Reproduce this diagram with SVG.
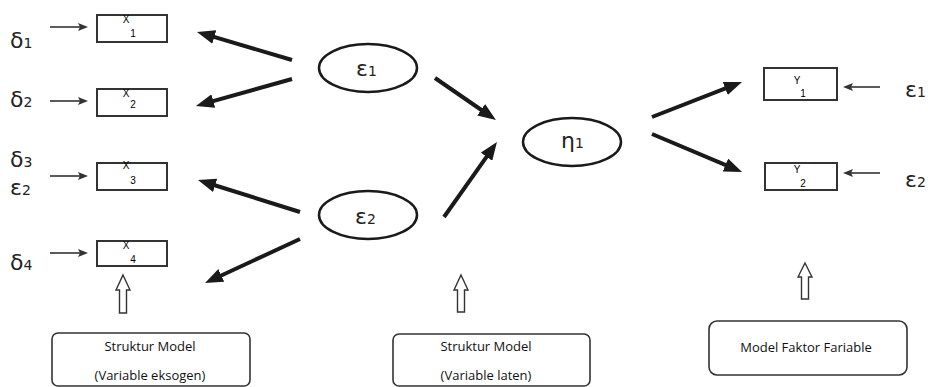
<svg xmlns="http://www.w3.org/2000/svg" width="928" height="387" viewBox="0 0 928 387">
<style>
.bg{fill:#fff}
.box{fill:#fff;stroke:#333;stroke-width:2}
.ell{fill:#fff;stroke:#1a1a1a;stroke-width:2.5}
.thick{stroke:#1a1a1a;stroke-width:4;fill:none;marker-end:url(#big)}
.thin{stroke:#333;stroke-width:1.6;fill:none;marker-end:url(#small)}
.hollow{fill:#fff;stroke:#333;stroke-width:1.4}
.cap{fill:#fff;stroke:#333;stroke-width:1.6}
.g{font-family:"DejaVu Sans","Liberation Sans",sans-serif;font-size:22px;fill:#222}
.g tspan{font-size:14px}
.sm{font-family:"Liberation Sans",Arial,sans-serif;font-size:10px;fill:#000;text-anchor:middle}
.lbl{font-family:"Open Sans","Liberation Sans",sans-serif;font-size:13px;fill:#111;text-anchor:middle}
</style>
<defs>
<marker id="big" markerUnits="userSpaceOnUse" viewBox="0 0 18 14" markerWidth="18" markerHeight="14" refX="3" refY="7" orient="auto">
<path d="M0,0 L18,7 L0,14 z" fill="#1a1a1a"/>
</marker>
<marker id="small" markerUnits="userSpaceOnUse" viewBox="0 0 10 8" markerWidth="10" markerHeight="8" refX="2" refY="4" orient="auto">
<path d="M0,0 L10,4 L0,8 L2,4 z" fill="#333"/>
</marker>
</defs>
<rect class="bg" x="0" y="0" width="928" height="387"/>

<g id="connectors">
<line class="thin" x1="50" y1="27" x2="80" y2="27"/>
<line class="thin" x1="50" y1="101" x2="80" y2="101"/>
<line class="thin" x1="50" y1="176" x2="80" y2="176"/>
<line class="thin" x1="50" y1="253" x2="80" y2="253"/>
<line class="thin" x1="880" y1="87" x2="851" y2="87"/>
<line class="thin" x1="880" y1="173" x2="851" y2="173"/>
<line class="thick" x1="292" y1="60" x2="211.4" y2="36.2"/>
<line class="thick" x1="292" y1="79" x2="210.4" y2="101.9"/>
<line class="thick" x1="435" y1="78" x2="483.6" y2="111.5"/>
<line class="thick" x1="444" y1="217" x2="488.3" y2="154.3"/>
<line class="thick" x1="300" y1="212" x2="212.3" y2="184.5"/>
<line class="thick" x1="300" y1="239" x2="218.6" y2="276.7"/>
<line class="thick" x1="652" y1="117" x2="728" y2="87.4"/>
<line class="thick" x1="652" y1="134" x2="728.2" y2="166.2"/>
<path class="hollow" d="M123,275 L130,290 L126.5,290 L126.5,313 L119.5,313 L119.5,290 L116,290 z"/>
<path class="hollow" d="M461,275 L468,290 L464.5,290 L464.5,312 L457.5,312 L457.5,290 L454,290 z"/>
<path class="hollow" d="M805,263 L812,277 L808.5,277 L808.5,299 L801.5,299 L801.5,277 L798,277 z"/>
</g>

<g id="delta-labels">
<text class="g" x="10" y="48">δ<tspan>1</tspan></text>
<text class="g" x="10" y="107">δ<tspan>2</tspan></text>
<text class="g" x="10" y="167">δ<tspan>3</tspan></text>
<text class="g" x="10" y="195">ε<tspan>2</tspan></text>
<text class="g" x="10" y="270">δ<tspan>4</tspan></text>
</g>

<g id="x1"><rect class="box" x="97" y="15" width="70" height="27"/><text class="sm" x="126" y="23">X</text><text class="sm" x="133" y="37">1</text></g>
<g id="x2"><rect class="box" x="97" y="89" width="70" height="27"/><text class="sm" x="126" y="97">X</text><text class="sm" x="133" y="108">2</text></g>
<g id="x3"><rect class="box" x="97" y="163" width="70" height="27"/><text class="sm" x="126" y="169">X</text><text class="sm" x="133" y="184">3</text></g>
<g id="x4"><rect class="box" x="97" y="241" width="70" height="25"/><text class="sm" x="126" y="249">X</text><text class="sm" x="133" y="263">4</text></g>

<g id="e1"><ellipse class="ell" cx="368" cy="68" rx="49" ry="24"/><text class="g" x="356" y="76">ε<tspan>1</tspan></text></g>
<g id="e2"><ellipse class="ell" cx="368" cy="215" rx="49" ry="24"/><text class="g" x="355" y="224">ε<tspan>2</tspan></text></g>
<g id="eta1"><ellipse class="ell" cx="572" cy="142" rx="49" ry="24"/><text class="g" x="561" y="148">η<tspan>1</tspan></text></g>

<g id="y1"><rect class="box" x="764" y="68" width="73" height="32"/><text class="sm" x="797" y="84">Y</text><text class="sm" x="803" y="97">1</text></g>
<g id="y2"><rect class="box" x="765" y="163" width="72" height="27"/><text class="sm" x="797" y="173">Y</text><text class="sm" x="803" y="187">2</text></g>

<g id="right-labels">
<text class="g" x="905" y="97">ε<tspan>1</tspan></text>
<text class="g" x="905" y="187">ε<tspan>2</tspan></text>
</g>

<g id="cap1"><rect class="cap" x="52" y="333" width="198" height="53" rx="6"/><text class="lbl" x="150" y="351">Struktur Model</text><text class="lbl" x="150" y="380">(Variable eksogen)</text></g>
<g id="cap2"><rect class="cap" x="393" y="334" width="197" height="52" rx="6"/><text class="lbl" x="486" y="351">Struktur Model</text><text class="lbl" x="486" y="380">(Variable laten)</text></g>
<g id="cap3"><rect class="cap" x="709" y="321" width="198" height="54" rx="8"/><text class="lbl" x="806" y="352">Model Faktor Fariable</text></g>
</svg>
